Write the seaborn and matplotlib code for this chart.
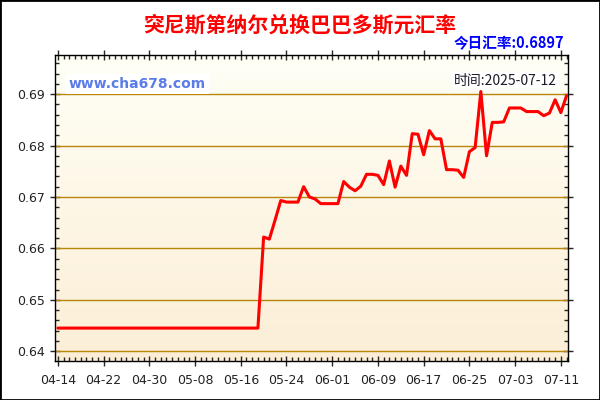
import matplotlib
matplotlib.use('Agg')
import matplotlib.pyplot as plt
import matplotlib.dates as mdates
import matplotlib.patches as patches
from matplotlib.ticker import MultipleLocator, FixedLocator
import seaborn as sns
import pandas as pd
import numpy as np

# data: daily TND -> BBD rates, 2025-04-14 .. 2025-07-12
dates = pd.date_range('2025-04-14', '2025-07-12', freq='D')
flat_rate = [0.6445] * 36
later_rates = [
    0.6622, 0.6618, 0.6655, 0.6693, 0.6690, 0.6690, 0.6690, 0.6720, 0.6700, 0.6696,
    0.6687, 0.6687, 0.6687, 0.6687, 0.6730, 0.6719, 0.6712, 0.6721, 0.6744, 0.6744,
    0.6742, 0.6724, 0.6770, 0.6719, 0.6760, 0.6742, 0.6823, 0.6822, 0.6782, 0.6829,
    0.6813, 0.6813, 0.6753, 0.6753, 0.6752, 0.6738, 0.6788, 0.6796, 0.6905, 0.6780,
    0.6845, 0.6845, 0.6846, 0.6873, 0.6873, 0.6873, 0.6866, 0.6866, 0.6866, 0.6858,
    0.6863, 0.6889, 0.6864, 0.6897,
]
rates = flat_rate + later_rates
tick_dates = pd.date_range('2025-04-14', periods=12, freq='8D')

title = '突尼斯第纳尔兑换巴巴多斯元汇率'
today_text = '今日汇率:0.6897'
time_text = '时间:2025-07-12'
site_text = 'www.cha678.com'

df = pd.DataFrame({'date': dates, 'rate': rates})

sns.set_style('ticks')
plt.rcParams['font.family'] = ['DejaVu Sans', 'Noto Sans CJK SC']
cjk = ['Noto Sans CJK SC', 'DejaVu Sans']

fig = plt.figure(figsize=(6, 4), dpi=100)
fig.patch.set_facecolor('white')
ax = fig.add_axes([55 / 600, 1 - 361 / 400, (568 - 55) / 600, (361 - 55) / 400])

x0 = mdates.date2num(pd.Timestamp('2025-04-13 12:00'))
x1 = mdates.date2num(pd.Timestamp('2025-07-12 06:00'))
y0, y1 = 0.6381, 0.6976

# cream gradient background
top = np.array([255, 255, 246]) / 255
bot = np.array([252, 238, 214]) / 255
t = np.linspace(0, 1, 256)[:, None, None]
grad = top * (1 - t) + bot * t
ax.imshow(grad, extent=[x0, x1, y0, y1], aspect='auto', zorder=0, origin='upper')

for v in [0.64, 0.65, 0.66, 0.67, 0.68, 0.69]:
    ax.axhline(v, color='#B8860B', lw=1, zorder=1)

sns.lineplot(data=df, x='date', y='rate', ax=ax, color='#FF0000', lw=2.2, zorder=3)

ax.set_xlim(x0, x1)
ax.set_ylim(y0, y1)
ax.set_xlabel('')
ax.set_ylabel('')

ax.xaxis.set_major_locator(FixedLocator(mdates.date2num(tick_dates)))
ax.xaxis.set_major_formatter(mdates.DateFormatter('%m-%d'))
ax.xaxis.set_minor_locator(mdates.DayLocator())
ax.yaxis.set_major_locator(MultipleLocator(0.01))
ax.yaxis.set_minor_locator(MultipleLocator(0.002))
ax.yaxis.set_major_formatter(plt.FuncFormatter(lambda v, p: f'{v:.2f}'))

ax.tick_params(which='major', direction='inout', length=7, width=1, labelsize=9,
               labelcolor='#222222', top=True, right=True)
ax.tick_params(which='minor', direction='in', length=3, width=1, top=True, right=True)
ax.tick_params(axis='x', pad=6)
ax.tick_params(axis='y', pad=4)
for s in ax.spines.values():
    s.set_color('black')
    s.set_linewidth(1)

fig.text(0.5, 1 - 25 / 400, title, ha='center', va='center', color='#FF0000',
         fontsize=15, fontweight='bold', family=cjk)
fig.text(564 / 600, 1 - 43 / 400, today_text, ha='right', va='center', color='#0000FF',
         fontsize=10.5, fontweight='bold', family=cjk)
fig.text(69 / 600, 1 - 84 / 400, site_text, ha='left', va='center', color='#5B7BE8',
         fontsize=10, fontweight='bold',
         bbox=dict(facecolor='white', edgecolor='none', pad=2))
fig.text(557 / 600, 1 - 81 / 400, time_text, ha='right', va='center', color='#1a1a2a',
         fontsize=10, family=cjk,
         bbox=dict(facecolor='white', edgecolor='none', pad=1.5))

fig.patches.append(patches.Rectangle((0, 0), 1, 1, transform=fig.transFigure,
                                     fill=False, edgecolor='black', lw=2))

fig.savefig('out.png', dpi=100)
